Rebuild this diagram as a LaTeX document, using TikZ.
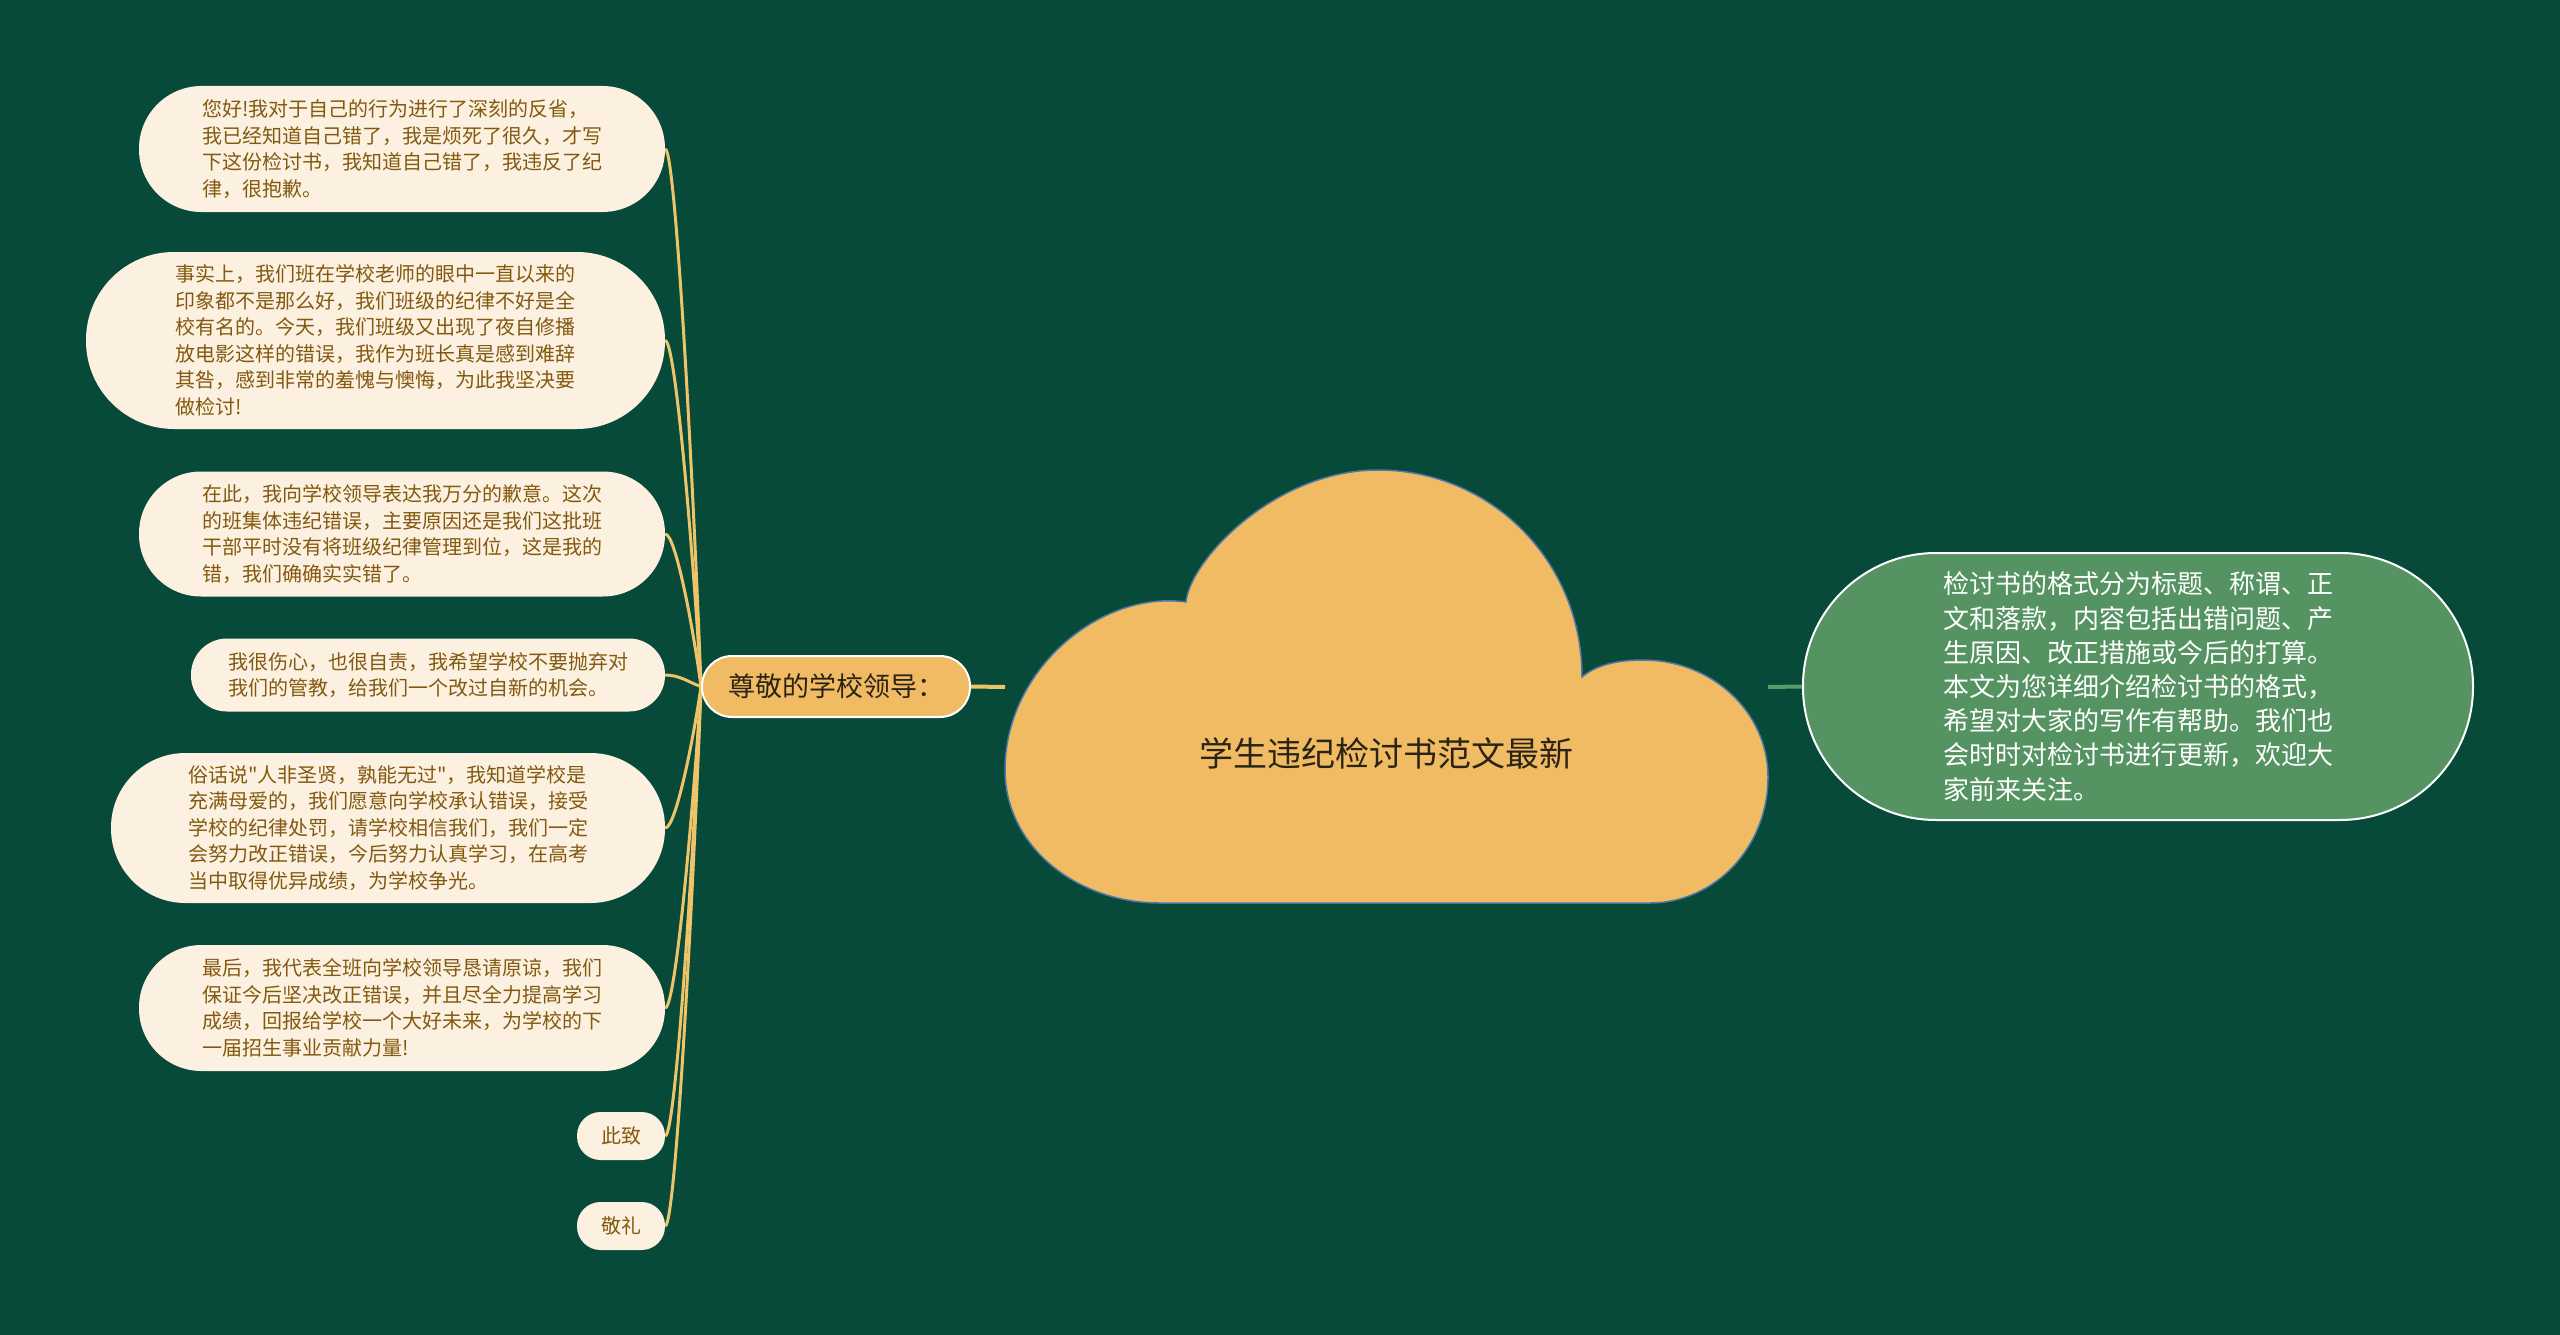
\documentclass[tikz,border=0pt]{standalone}
\usepackage{fontspec}
\setmainfont{Noto Sans CJK SC}[Ligatures=TeXOff]
\definecolor{bgc}{HTML}{074A3A}
\definecolor{leaffill}{HTML}{FCF1E1}
\definecolor{leaftext}{HTML}{83590F}
\definecolor{gold}{HTML}{EEC46B}
\definecolor{cloudfill}{HTML}{F0BB62}
\definecolor{cloudedge}{HTML}{4C78A8}
\definecolor{darktext}{HTML}{2B2416}
\definecolor{greenfill}{HTML}{559462}
\definecolor{greenline}{HTML}{5A9A68}
\pgfdeclarelayer{bg}
\pgfdeclarelayer{conn}
\pgfsetlayers{bg,conn,main}
\begin{document}
\begin{tikzpicture}[x=1pt,y=-1pt,
  leaf/.style={rectangle, fill=leaffill, text=leaftext, font=\fontsize{20}{26.5}\selectfont, align=left, inner sep=0pt},
  branchbox/.style={rectangle, fill=cloudfill, draw=white, line width=2pt, text=darktext, font=\fontsize{27}{32}\selectfont, inner sep=0pt},
  greenbox/.style={rectangle, fill=greenfill, draw=white, line width=2pt, text=white, font=\fontsize{26}{34.2}\selectfont, align=left, inner sep=0pt},
  titletext/.style={text=darktext, font=\fontsize{34}{40}\selectfont, inner sep=0pt},
  leafline/.style={draw=gold, line width=3pt},
  goldline/.style={draw=gold, line width=4pt},
  greenconn/.style={draw=greenline, line width=4pt}]
\begin{pgfonlayer}{bg}
\fill[bgc] (0,0) rectangle (2560,1335);
\end{pgfonlayer}
\useasboundingbox (0,0) rectangle (2560,1335);

% cloud
\filldraw[fill=cloudfill, draw=cloudedge, line width=1.5pt]
 (1160,903) -- (1650,903)
 .. controls (1715,903) and (1768,847) .. (1768,777)
 .. controls (1768,712) and (1712,660) .. (1643,660)
 .. controls (1615,660) and (1595,666) .. (1582,677)
 .. controls (1582,560) and (1490,470) .. (1378,470)
 .. controls (1275,470) and (1190,560) .. (1186,602)
 .. controls (1100,590) and (1005,670) .. (1005,770)
 .. controls (1005,845) and (1075,903) .. (1160,903) -- cycle;
\node[titletext] (ttl) at (1386,753) {学生违纪检讨书范文最新};
\coordinate (cw) at (1005,687);
\coordinate (ce) at (1768,687);

% branch
\node[branchbox, minimum width=268, minimum height=61, rounded corners=30] (br) at (836,686.5) {尊敬的学校领导：};

% right summary
\node[greenbox, minimum width=670, minimum height=267, rounded corners=133] (rt) at (2138,686.5) {检讨书的格式分为标题、称谓、正\\文和落款，内容包括出错问题、产\\生原因、改正措施或今后的打算。\\本文为您详细介绍检讨书的格式，\\希望对大家的写作有帮助。我们也\\会时时对检讨书进行更新，欢迎大\\家前来关注。};

% leaves
\node[leaf, minimum width=526, minimum height=126, rounded corners=62.5] (l1) at (402,149) {您好!我对于自己的行为进行了深刻的反省，\\我已经知道自己错了，我是烦死了很久，才写\\下这份检讨书，我知道自己错了，我违反了纪\\律，很抱歉。};
\node[leaf, minimum width=579, minimum height=177, rounded corners=88] (l2) at (375.5,340.5) {事实上，我们班在学校老师的眼中一直以来的\\印象都不是那么好，我们班级的纪律不好是全\\校有名的。今天，我们班级又出现了夜自修播\\放电影这样的错误，我作为班长真是感到难辞\\其咎，感到非常的羞愧与懊悔，为此我坚决要\\做检讨!};
\node[leaf, minimum width=526, minimum height=125, rounded corners=62] (l3) at (402,534) {在此，我向学校领导表达我万分的歉意。这次\\的班集体违纪错误，主要原因还是我们这批班\\干部平时没有将班级纪律管理到位，这是我的\\错，我们确确实实错了。};
\node[leaf, minimum width=474, minimum height=73, rounded corners=36] (l4) at (428,675) {我很伤心，也很自责，我希望学校不要抛弃对\\我们的管教，给我们一个改过自新的机会。};
\node[leaf, minimum width=554, minimum height=150, rounded corners=74.5] (l5) at (388,828) {俗话说"人非圣贤，孰能无过"，我知道学校是\\充满母爱的，我们愿意向学校承认错误，接受\\学校的纪律处罚，请学校相信我们，我们一定\\会努力改正错误，今后努力认真学习，在高考\\当中取得优异成绩，为学校争光。};
\node[leaf, minimum width=526, minimum height=126, rounded corners=62.5] (l6) at (402,1008) {最后，我代表全班向学校领导恳请原谅，我们\\保证今后坚决改正错误，并且尽全力提高学习\\成绩，回报给学校一个大好未来，为学校的下\\一届招生事业贡献力量!};
\node[leaf, minimum width=88, minimum height=48, rounded corners=23.5] (l7) at (621,1136) {此致};
\node[leaf, minimum width=88, minimum height=48, rounded corners=23.5] (l8) at (621,1226) {敬礼};

\begin{pgfonlayer}{conn}
\draw[goldline] (br.east) -- (cw);
\draw[greenconn] (ce) -- (rt.west);
\draw[leafline] (l1.east) .. controls (676,149) and (694,499) .. (br.west);
\draw[leafline] (l2.east) .. controls (676,340.5) and (694,566) .. (br.west);
\draw[leafline] (l3.east) .. controls (676,534) and (694,633.5) .. (br.west);
\draw[leafline] (l4.east) .. controls (680,675) and (690,683) .. (br.west);
\draw[leafline] (l5.east) .. controls (676,828) and (694,736) .. (br.west);
\draw[leafline] (l6.east) .. controls (676,1008) and (694,799) .. (br.west);
\draw[leafline] (l7.east) .. controls (676,1136) and (694,844) .. (br.west);
\draw[leafline] (l8.east) .. controls (676,1226) and (694,876) .. (br.west);
\end{pgfonlayer}
\end{tikzpicture}
\end{document}
